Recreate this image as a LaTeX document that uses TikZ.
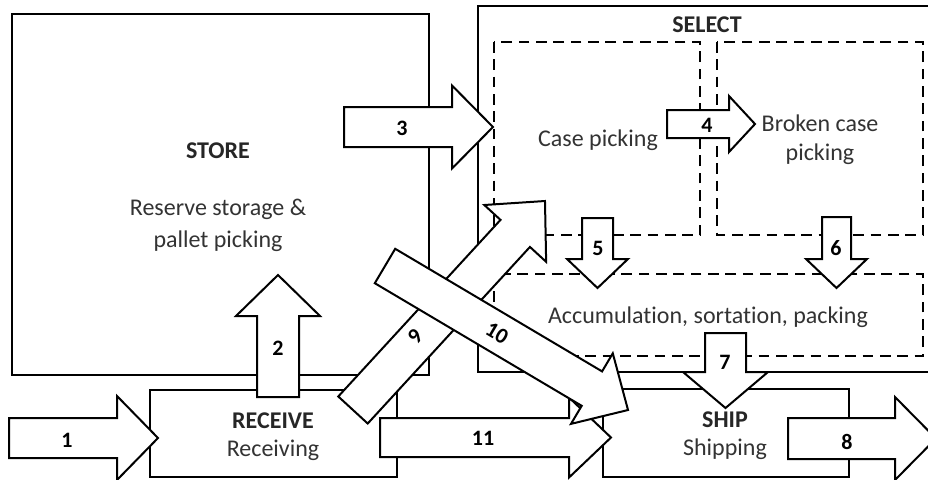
\documentclass[tikz,border=0pt]{standalone}
\usepackage{fontspec}
\setmainfont{Carlito}[Ligatures=NoCommon]
\begin{document}
\begin{tikzpicture}[x=0.75pt,y=-0.75pt,
  box/.style={draw=black,line width=1.6pt},
  dbox/.style={draw=black,line width=1.6pt,dash pattern=on 8pt off 5pt},
  arr/.style={draw=black,fill=white,line width=1.5pt,line join=miter},
  title/.style={font=\fontsize{18}{22}\selectfont\bfseries,text=black!85,inner sep=0pt},
  txt/.style={font=\fontsize{18}{22}\selectfont,text=black!80,inner sep=0pt,align=center},
  num/.style={font=\fontsize{16.5}{18}\selectfont\bfseries,text=black,inner sep=0pt}]
\newcommand{\blockarrow}[7]{%
  \begin{scope}[shift={(#1,#2)},rotate=#3]
    \draw[arr] (0,-#6) -- ({#4-#5},-#6) -- ({#4-#5},-#7) -- (#4,0) -- ({#4-#5},#7) -- ({#4-#5},#6) -- (0,#6) -- cycle;
  \end{scope}}
\useasboundingbox (0,0) rectangle (928,479);
\fill[white] (0,0) rectangle (928,479);
\clip (0,0) rectangle (928,479);
% boxes
\draw[box] (12,14) rectangle (429,375);
\draw[box] (478,6) rectangle (940,372);
\draw[box] (150,390) rectangle (397,477);
\draw[box] (603,389) rectangle (849,477);
\draw[dbox] (494,42) rectangle (700,235);
\draw[dbox] (717,42) rectangle (923,235);
\draw[dbox] (494,274) rectangle (923,356);
% box texts
\node[title] (store) at (218,151) {STORE};
\node[txt,font=\fontsize{18}{24}\selectfont] (storetxt) at (218,225) {Reserve storage \&\\pallet picking};
\node[title] (select) at (707,25) {SELECT};
\node[txt] (case) at (598,140) {Case picking};
\node[txt] (broken) at (820,140) {Broken case\\picking};
\node[txt] (accum) at (708,317) {Accumulation, sortation, packing};
\node[title] (receive) at (273,421) {RECEIVE};
\node[txt] (receiving) at (273,450) {Receiving};
\node[title] (ship) at (725,420) {SHIP};
\node[txt] (shipping) at (725,449) {Shipping};
% block arrows: tail x, tail y, angle, length, head length, shaft half, head half
\blockarrow{9}{438}{0}{149}{41}{20}{42}
\blockarrow{278}{397}{90}{122}{41}{21}{42}
\blockarrow{344}{127}{0}{149}{41}{20}{41.5}
\blockarrow{667}{124}{0}{88}{26}{14}{28}
\blockarrow{597.5}{218}{-90}{70}{29}{15.5}{30.5}
\blockarrow{836.5}{217}{-90}{71}{29}{14.5}{30.5}
\blockarrow{725.5}{333}{-90}{75}{36}{20.5}{42.5}
\blockarrow{788}{438.5}{0}{148}{41}{20.5}{41.5}
\blockarrow{380}{437.5}{0}{231}{42}{19.5}{40}
\blockarrow{353}{410}{47.43}{283.8}{44}{20}{42}
\blockarrow{385}{266}{-30.65}{282.5}{42}{20}{41}
% arrow labels
\node[num] (n1) at (67,440) {1};
\node[num] (n2) at (278,348) {2};
\node[num] (n3) at (402,128) {3};
\node[num] (n4) at (707,125) {4};
\node[num] (n5) at (598,248) {5};
\node[num] (n6) at (836,248) {6};
\node[num] (n7) at (725,362) {7};
\node[num] (n8) at (847,442) {8};
\node[num] (n11) at (483,438) {11};
\node[num,rotate=47.4] (n9) at (415,337) {9};
\node[num,rotate=-30.6] (n10) at (497,333) {10};
\end{tikzpicture}
\end{document}
